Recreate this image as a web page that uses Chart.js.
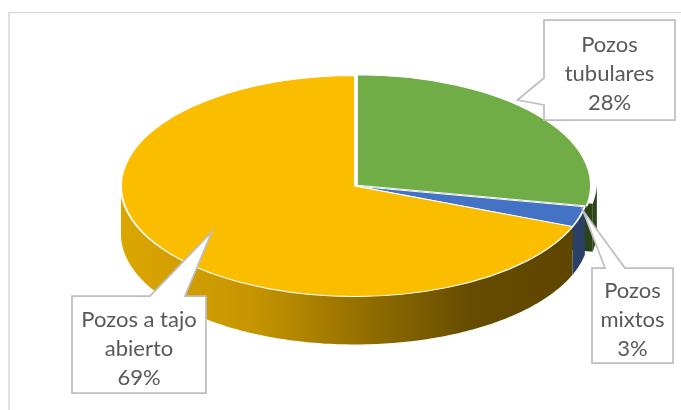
<!DOCTYPE html>
<html>
<head>
<meta charset="utf-8">
<script src="https://cdn.jsdelivr.net/npm/chart.js@4.4.1/dist/chart.umd.min.js"></script>
<style>
  html, body { margin: 0; padding: 0; background: #ffffff; }
  #wrap { position: relative; width: 681px; height: 410px; }
</style>
</head>
<body>
<div id="wrap"><canvas id="c" width="681" height="410"></canvas></div>
<script>
// Well types and their share of the total
const categories = ['Pozos tubulares', 'Pozos mixtos', 'Pozos a tajo abierto'];
const shares = [28, 3, 69];
const explode = [10, 0, 0];

// Top-face colours and the shaded colours used for the rim walls
const sliceColors = ['#70ad47', '#4472c4', '#fbbd00'];
const sideStops = [
  [[0, '#35541f'], [1, '#2a4418']],
  [[0, '#33507f'], [1, '#2a4066']],
  [[0, '#dca600'], [0.28, '#c69500'], [0.55, '#8d6a00'], [0.75, '#654c00'], [1, '#5c4500']]
];

// Tilt of the disc and thickness of its rim
const TILT = 0.472;
const DEPTH = 48;

// Callout boxes: rectangle, side the pointer leaves from, pointer base,
// and where on the slice the pointer lands (fraction of angle, fraction of radius)
const callouts = [
  { box: [544, 20, 131, 100], side: 'left', base: [78, 105], t: 0.41, r: 1.0 },
  { box: [592, 268, 81, 95], side: 'top', base: [605, 625], t: 0.2, r: 1.0 },
  { box: [72, 296, 134, 97], side: 'top', base: [150, 185], t: 0.5, r: 0.74 }
];

function arcOffset(arc) {
  const off = arc.options.offset || 0;
  const half = (arc.startAngle + arc.endAngle) / 2;
  const circ = arc.endAngle - arc.startAngle;
  const fix = 1 - Math.sin(Math.min(Math.PI, circ || 0));
  const total = off * (1 + fix);
  return { ox: Math.cos(half) * total, oy: Math.sin(half) * total };
}

function project(cx, cy, ox, oy, r, a, dz) {
  return [cx + ox + r * Math.cos(a), cy + TILT * (oy + r * Math.sin(a)) + dz];
}

function frontRanges(s, e) {
  const out = [];
  for (const base of [-2 * Math.PI, 0, 2 * Math.PI]) {
    const a = Math.max(s, base), b = Math.min(e, base + Math.PI);
    if (b > a) out.push([a, b]);
  }
  return out;
}

function wrapWords(ctx, text, maxW) {
  const words = text.split(' ');
  const lines = [];
  let cur = '';
  for (const w of words) {
    const test = cur ? cur + ' ' + w : w;
    if (cur && ctx.measureText(test).width > maxW) { lines.push(cur); cur = w; }
    else cur = test;
  }
  if (cur) lines.push(cur);
  return lines;
}

const pie3d = {
  id: 'pie3d',
  beforeDraw(chart) {
    const ctx = chart.ctx;
    ctx.save();
    ctx.strokeStyle = '#d9d9d9';
    ctx.lineWidth = 1.5;
    ctx.strokeRect(9, 12.5, 720, 440);
    ctx.restore();
  },
  beforeDatasetsDraw(chart) {
    const ctx = chart.ctx;
    const arcs = chart.getDatasetMeta(0).data;
    const cx = arcs[0].x, cy = arcs[0].y;
    const R = arcs[0].outerRadius;

    ctx.save();
    // cut faces of exploded slices that face the viewer
    arcs.forEach((arc, i) => {
      if (!(arc.options.offset > 0)) return;
      const { ox, oy } = arcOffset(arc);
      const faces = [];
      if (Math.cos(arc.endAngle) > 0) faces.push(arc.endAngle);
      if (-Math.cos(arc.startAngle) > 0) faces.push(arc.startAngle);
      faces.forEach(a => {
        const p0 = project(cx, cy, ox, oy, 0, a, 0);
        const p1 = project(cx, cy, ox, oy, R, a, 0);
        const p2 = project(cx, cy, ox, oy, R, a, DEPTH);
        const p3 = project(cx, cy, ox, oy, 0, a, DEPTH);
        ctx.beginPath();
        ctx.moveTo(...p0); ctx.lineTo(...p1); ctx.lineTo(...p2); ctx.lineTo(...p3);
        ctx.closePath();
        ctx.fillStyle = sideStops[i][sideStops[i].length - 1][1];
        ctx.fill();
      });
    });

    // rim walls on the front half of the disc
    arcs.forEach((arc, i) => {
      const { ox, oy } = arcOffset(arc);
      const grad = ctx.createLinearGradient(cx - R, 0, cx + R, 0);
      sideStops[i].forEach(([p, c]) => grad.addColorStop(p, c));
      frontRanges(arc.startAngle, arc.endAngle).forEach(([a, b]) => {
        const n = Math.max(4, Math.ceil((b - a) * 60));
        ctx.beginPath();
        for (let k = 0; k <= n; k++) {
          const t = a + (b - a) * k / n;
          const p = project(cx, cy, ox, oy, R, t, 0);
          k === 0 ? ctx.moveTo(...p) : ctx.lineTo(...p);
        }
        for (let k = n; k >= 0; k--) {
          const t = a + (b - a) * k / n;
          ctx.lineTo(...project(cx, cy, ox, oy, R, t, DEPTH));
        }
        ctx.closePath();
        ctx.fillStyle = grad;
        ctx.fill();
      });
    });
    ctx.restore();

    // top faces: squash the library's circular slices into an ellipse
    ctx.save();
    ctx.translate(cx, cy);
    ctx.scale(1, TILT);
    ctx.translate(-cx, -cy);
  },
  afterDatasetsDraw(chart) {
    const ctx = chart.ctx;
    ctx.restore();

    const arcs = chart.getDatasetMeta(0).data;
    const values = chart.data.datasets[0].data;
    const total = values.reduce((s, v) => s + v, 0);
    const cx = arcs[0].x, cy = arcs[0].y;

    ctx.save();
    ctx.font = '22px Lato';
    callouts.forEach((c, i) => {
      const arc = arcs[i];
      const { ox, oy } = arcOffset(arc);
      const a = arc.startAngle + c.t * (arc.endAngle - arc.startAngle);
      const tip = project(cx, cy, ox, oy, arc.outerRadius * c.r, a, 0);
      const [x, y, w, h] = c.box;

      ctx.beginPath();
      if (c.side === 'left') {
        ctx.moveTo(x, y); ctx.lineTo(x + w, y); ctx.lineTo(x + w, y + h); ctx.lineTo(x, y + h);
        ctx.lineTo(x, c.base[1]); ctx.lineTo(tip[0], tip[1]); ctx.lineTo(x, c.base[0]);
      } else {
        ctx.moveTo(x, y); ctx.lineTo(c.base[0], y); ctx.lineTo(tip[0], tip[1]); ctx.lineTo(c.base[1], y);
        ctx.lineTo(x + w, y); ctx.lineTo(x + w, y + h); ctx.lineTo(x, y + h);
      }
      ctx.closePath();
      ctx.fillStyle = '#ffffff';
      ctx.fill();
      ctx.strokeStyle = '#bfbfbf';
      ctx.lineWidth = 1.75;
      ctx.lineJoin = 'miter';
      ctx.stroke();

      const lines = wrapWords(ctx, chart.data.labels[i], w - 16);
      lines.push(Math.round(values[i] / total * 100) + '%');
      ctx.fillStyle = '#595959';
      ctx.textAlign = 'center';
      ctx.textBaseline = 'alphabetic';
      const lh = 29;
      const mid = y + h / 2 + 11;
      lines.forEach((ln, j) => {
        ctx.fillText(ln, x + w / 2, mid + (j - (lines.length - 1) / 2) * lh);
      });
    });
    ctx.restore();
  }
};

new Chart(document.getElementById('c'), {
  type: 'pie',
  data: {
    labels: categories,
    datasets: [{
      data: shares,
      backgroundColor: sliceColors,
      borderColor: '#ffffff',
      borderWidth: 2,
      offset: explode,
      clip: false
    }]
  },
  options: {
    responsive: false,
    animation: false,
    events: [],
    radius: 234,
    layout: { padding: { left: 29, right: 0, top: 0, bottom: 38 } },
    plugins: { legend: { display: false }, tooltip: { enabled: false } }
  },
  plugins: [pie3d]
});
</script>
</body>
</html>
